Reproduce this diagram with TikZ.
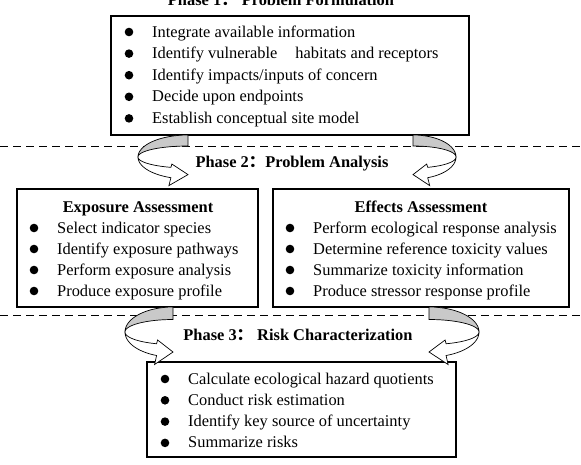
\documentclass[tikz,border=0pt]{standalone}
\usepackage{fontspec}
\setmainfont{Liberation Serif}
\newfontfamily\cjk{Noto Sans CJK SC}
\usetikzlibrary{calc}
\tikzset{
  box/.style={draw, line width=1.1pt, fill=white, inner sep=0pt, outer sep=0pt, anchor=north west},
  sepline/.style={line width=0.9pt, dash pattern=on 8pt off 5pt},
  backface/.style={draw, line width=0.7pt, fill=gray!42},
  frontface/.style={draw, line width=0.7pt, fill=white},
  itemtext/.style={anchor=base west, inner sep=0pt, font=\fontsize{16.4}{21.4}\selectfont},
  headtext/.style={anchor=base, inner sep=0pt, font=\fontsize{16.4}{20}\selectfont\bfseries},
}
\newcommand\blt{\makebox[27.5pt][l]{\tikz[baseline={(0pt,-5pt)}]\fill (4.3pt,0pt) circle (4.3pt);}}
\newcommand\curlarrow[4]{%
  \begin{scope}[shift={#1}, xscale=#4]
    \path[backface] plot[domain=90:180,samples=30] ({#2*cos(\x)},{#3-#3*sin(\x)})
      -- plot[domain=180:90,samples=30] ({#2*cos(\x)},{#3-0.5*#3*sin(\x)}) -- cycle;
    \path[frontface] plot[domain=180:250,samples=30] ({#2*cos(\x)},{#3-#3*sin(\x)})
      -- ({-0.342*#2-2},{2.3*#3}) -- (0,{1.8*#3}) -- ({-0.342*#2+1},{1.32*#3})
      -- plot[domain=250:180,samples=30] ({#2*cos(\x)},{#3-0.5*#3*sin(\x)}) -- cycle;
  \end{scope}}
\begin{document}
\begin{tikzpicture}[x=1pt,y=-1pt]
\useasboundingbox (0,0) rectangle (581,464);
% separators
\coordinate (s1l) at (0,146); \coordinate (s1r) at (581,146);
\coordinate (s2l) at (0,315); \coordinate (s2r) at (581,315);
\draw[sepline] (s1l) -- (s1r);
\draw[sepline] (s2l) -- (s2r);
% phase titles
\node[headtext] (ph1) at (281,5) {Phase 1{\cjk ：} Problem Formulation};
\node[headtext] (ph2) at (292,167) {Phase 2{\cjk ：}Problem Analysis};
\node[headtext] (ph3) at (298,340) {Phase 3{\cjk ：} Risk Characterization};
% boxes
\node[box, minimum width=358pt, minimum height=119pt] (p1) at (111,16) {};
\node[box, minimum width=241pt, minimum height=118pt] (ex) at (17,189) {};
\node[box, minimum width=296pt, minimum height=118pt] (ef) at (273,189) {};
\node[box, minimum width=309pt, minimum height=95pt] (p3) at (147,362) {};
% box texts
\node[itemtext, font=\fontsize{16.4}{21.6}\selectfont] (t1) at (124.5,37) {\begin{tabular}[t]{@{}l@{}}
\blt Integrate available information\\
\blt Identify vulnerable \hspace{0.85em}habitats and receptors\\
\blt Identify impacts/inputs of concern\\
\blt Decide upon endpoints\\
\blt Establish conceptual site model
\end{tabular}};
\node[headtext] (hex) at (138,212) {Exposure Assessment};
\node[itemtext, font=\fontsize{16.4}{21}\selectfont] (tex) at (29.5,233) {\begin{tabular}[t]{@{}l@{}}
\blt Select indicator species\\
\blt Identify exposure pathways\\
\blt Perform exposure analysis\\
\blt Produce exposure profile
\end{tabular}};
\node[headtext] (hef) at (421,212) {Effects Assessment};
\node[itemtext, font=\fontsize{16.4}{21}\selectfont] (tef) at (285.5,233) {\begin{tabular}[t]{@{}l@{}}
\blt Perform ecological response analysis\\
\blt Determine reference toxicity values\\
\blt Summarize toxicity information\\
\blt Produce stressor response profile
\end{tabular}};
\node[itemtext, font=\fontsize{16.4}{21.3}\selectfont] (t3) at (160.5,384) {\begin{tabular}[t]{@{}l@{}}
\blt Calculate ecological hazard quotients\\
\blt Conduct risk estimation\\
\blt Identify key source of uncertainty\\
\blt Summarize risks
\end{tabular}};
% curled arrows
\curlarrow{($(p1.south west)+(77,0)$)}{50}{22}{1}
\curlarrow{($(p1.south east)+(-56,0)$)}{43}{22}{-1}
\curlarrow{($(ex.south west)+(156,0)$)}{48}{25}{1}
\curlarrow{($(ef.south west)+(156,0)$)}{50}{25}{-1}
\end{tikzpicture}
\end{document}
